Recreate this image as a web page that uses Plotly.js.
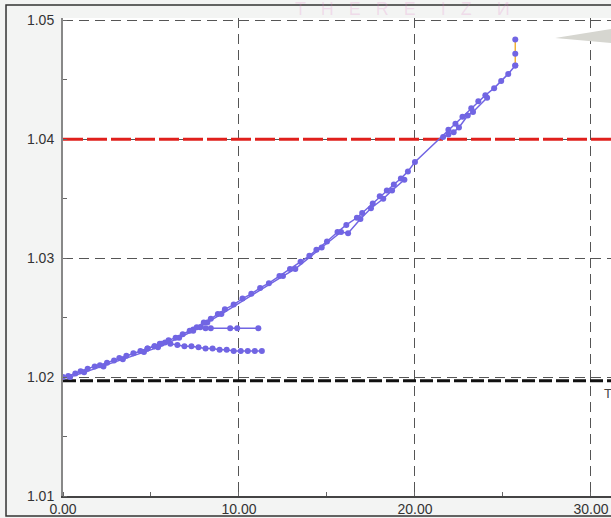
<!DOCTYPE html>
<html>
<head>
<meta charset="utf-8">
<script src="https://cdn.plot.ly/plotly-3.0.1.min.js"></script>
<style>
html,body{margin:0;padding:0;background:#f3f4f3;}
#chart{width:611px;height:518px;}
</style>
</head>
<body>
<div id="chart"></div>
<script>
// Main run (upper trend)
const mainX = [0.0, 0.3, 0.7, 1.0, 1.4, 1.8, 2.1, 2.5, 2.9, 3.2, 3.6, 4.0, 4.4, 4.8, 5.2, 5.6, 6.0, 6.4, 6.8, 7.2, 7.6, 8.0, 8.4, 8.8, 9.2, 9.7, 10.2, 10.7, 11.2, 11.7, 12.3, 12.9, 13.5, 14.0, 14.4, 15.0, 15.6, 16.1, 16.7, 17.0, 17.6, 18.0, 18.4, 18.8, 19.2, 19.6, 20.0, 21.9, 22.3, 22.7, 23.2, 23.6, 24.0, 24.5, 24.9, 25.3, 25.7];
const mainY = [1.0200, 1.0201, 1.0203, 1.0205, 1.0207, 1.0209, 1.0210, 1.0212, 1.0214, 1.0216, 1.0218, 1.0220, 1.0222, 1.0224, 1.0226, 1.0228, 1.0231, 1.0233, 1.0236, 1.0239, 1.0242, 1.0246, 1.0249, 1.0253, 1.0257, 1.0261, 1.0266, 1.0270, 1.0275, 1.0279, 1.0285, 1.0291, 1.0297, 1.0302, 1.0307, 1.0314, 1.0322, 1.0328, 1.0334, 1.0338, 1.0346, 1.0352, 1.0357, 1.0362, 1.0367, 1.0373, 1.0381, 1.0408, 1.0413, 1.0419, 1.0426, 1.0432, 1.0437, 1.0443, 1.0449, 1.0455, 1.0462];
// Second run, scattered slightly off the trend (early part)
const run2X = [0.4, 1.2, 2.3, 3.4, 4.6, 5.4, 6.6, 7.4, 8.2, 9.0, 12.5, 13.2, 14.7, 15.8, 16.2, 16.9, 17.5, 18.2, 18.7, 19.4];
const run2Y = [1.0200, 1.0204, 1.0209, 1.0215, 1.0221, 1.0225, 1.0233, 1.0239, 1.0246, 1.0253, 1.0285, 1.0291, 1.0309, 1.0322, 1.0321, 1.0333, 1.0342, 1.0350, 1.0357, 1.0366];
// Third run, scattered points near the upper limit
const run3X = [21.6, 21.9, 22.2, 22.5, 23.0, 23.3, 24.1];
const run3Y = [1.0402, 1.0404, 1.0406, 1.0410, 1.0420, 1.0423, 1.0435];
// Lower branch (flattening)
const lowX = [4.8, 5.2, 5.5, 5.8, 6.1, 6.5, 6.9, 7.3, 7.7, 8.1, 8.5, 8.9, 9.3, 9.7, 10.1, 10.5, 10.9, 11.3];
const lowY = [1.0224, 1.0226, 1.0228, 1.0229, 1.0228, 1.0227, 1.0226, 1.0226, 1.0225, 1.0224, 1.0224, 1.0223, 1.0223, 1.0222, 1.0222, 1.0222, 1.0222, 1.0222];
// Upper short branch
const upX = [7.4, 7.8, 8.1, 8.4, 9.5, 9.9, 11.1];
const upY = [1.0240, 1.0242, 1.0241, 1.0241, 1.0241, 1.0241, 1.0241];
// Final vertical segment
const endX = [25.7, 25.7, 25.7];
const endY = [1.0462, 1.0472, 1.0484];
// Reference lines
const upperLimit = 1.04;
const lowerLimit = 1.0197;
const xTickVals = [0, 10, 20, 30];
const yTickVals = [1.01, 1.02, 1.03, 1.04, 1.05];

const purple = '#7165e3';
function series(x, y, lineColor) {
  return {x: x, y: y, type: 'scatter', mode: 'lines+markers',
    line: {color: lineColor || purple, width: 1.5},
    marker: {color: purple, size: 6}, hoverinfo: 'skip', showlegend: false};
}
const xMax = 31.14;
const traces = [
  {x: [0, xMax], y: [upperLimit, upperLimit], type: 'scatter', mode: 'lines',
   line: {color: '#e0201c', width: 3, dash: '20px,4px'}, showlegend: false, hoverinfo: 'skip'},
  {x: [0, xMax], y: [lowerLimit, lowerLimit], type: 'scatter', mode: 'lines',
   line: {color: '#111111', width: 3, dash: '13px,4px'}, showlegend: false, hoverinfo: 'skip'},
  series(lowX, lowY),
  series(upX, upY),
  series(run2X, run2Y),
  series(run3X, run3Y),
  series(mainX, mainY),
  series(endX, endY, '#f2b134')
];

const layout = {
  width: 611, height: 518,
  margin: {l: 63, r: 0, t: 18, b: 22},
  paper_bgcolor: '#f3f4f3',
  plot_bgcolor: '#ffffff',
  font: {family: 'Liberation Sans, Arial, sans-serif', size: 14, color: '#333333'},
  xaxis: {
    range: [0, xMax], tickvals: xTickVals, tickformat: '.2f',
    showgrid: true, gridcolor: '#555555', gridwidth: 1, griddash: '10px,6px',
    showline: true, linecolor: '#444444', linewidth: 1.5,
    ticks: '', zeroline: false, ticklabelstandoff: 0,
    minor: {dtick: 5, ticks: 'inside', ticklen: 4, tickcolor: '#666', showgrid: false}
  },
  yaxis: {
    range: [1.01, 1.0502], tickvals: yTickVals, tickformat: '.2f',
    showgrid: true, gridcolor: '#555555', gridwidth: 1, griddash: '10px,6px',
    showline: true, linecolor: '#888888', linewidth: 2,
    ticks: '', zeroline: false, ticklabelstandoff: 4,
    minor: {dtick: 0.005, ticks: 'inside', ticklen: 4, tickcolor: '#666', showgrid: false}
  },
  shapes: [
    {type: 'rect', xref: 'paper', yref: 'paper', x0: -0.104, x1: 1.1, y0: -0.042, y1: 1.027,
     line: {color: '#333333', width: 1.5}, fillcolor: 'rgba(0,0,0,0)', layer: 'above'},
    {type: 'path', xref: 'paper', yref: 'paper',
     path: 'M 0.898 0.9583 L 1.0 0.9770 L 1.0 0.9478 Z',
     fillcolor: '#d6d6d0', line: {width: 0}, layer: 'above'}
  ],
  annotations: [
    {xref: 'x', yref: 'y', x: 30.6, y: 1.0186, text: 'T', showarrow: false,
     xanchor: 'left', yanchor: 'middle', font: {size: 13, color: '#444'}},
    {xref: 'paper', yref: 'paper', x: 0.62, y: 1.018, text: 'T   H   E   R   E     I   Z     И',
     showarrow: false, xanchor: 'center', yanchor: 'middle',
     font: {size: 18, color: 'rgba(225,130,200,0.22)', family: 'Liberation Sans'}}
  ]
};

Plotly.newPlot('chart', traces, layout, {displayModeBar: false, staticPlot: true});
</script>
</body>
</html>
